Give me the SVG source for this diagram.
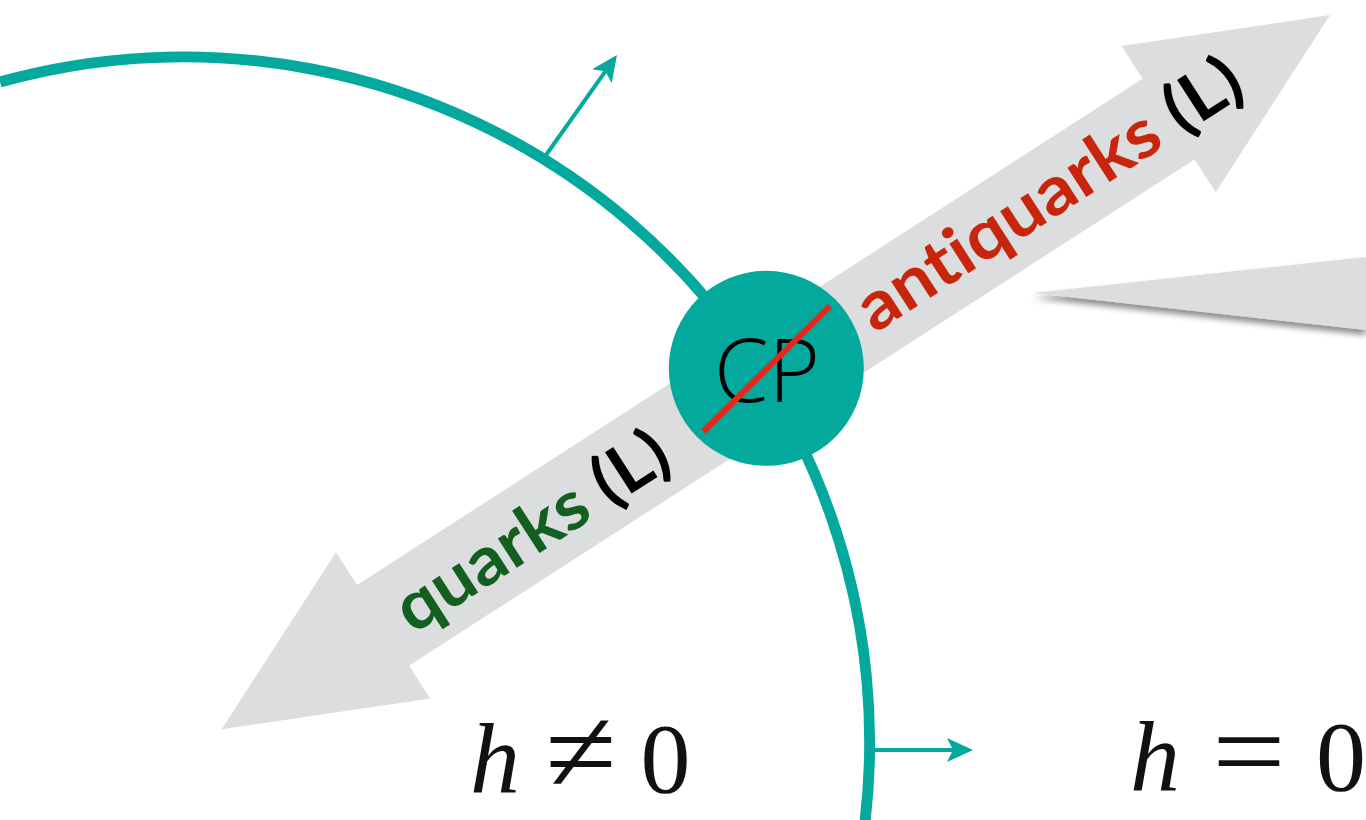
<svg xmlns="http://www.w3.org/2000/svg" width="1366" height="820" viewBox="0 0 1366 820">
<style>
.teal{fill:none;stroke:#04a99d}
.band{fill:#dcdddf}
.lbl{font-family:Lato,"Open Sans","Liberation Sans",sans-serif;font-weight:700;font-size:68px;font-variant-ligatures:none}
.math{font-family:"Liberation Serif","DejaVu Serif",serif;font-size:100px;fill:#111}
</style>
<defs>
<marker id="ah" markerUnits="userSpaceOnUse" viewBox="0 0 26 24" markerWidth="26" markerHeight="24" refX="6" refY="12" orient="auto">
<path d="M0,0 L26,12 L0,24 L6,12 Z" fill="#04a99d"/>
</marker>
<filter id="sh" x="-10%" y="-50%" width="120%" height="200%">
<feDropShadow dx="0" dy="5" stdDeviation="3" flood-color="#000" flood-opacity="0.45"/>
</filter>
</defs>
<g id="boundary">
<path class="teal" stroke-width="11" d="M0,82 A686,686 0 0 1 865,822"/>
</g>
<g id="connectors">
<line class="teal" stroke-width="4" x1="546" y1="155" x2="605.4" y2="71.3" marker-end="url(#ah)"/>
<line class="teal" stroke-width="4" x1="870" y1="750" x2="953" y2="750" marker-end="url(#ah)"/>
</g>
<g id="wedge">
<polygon class="band" filter="url(#sh)" points="1033,293 1366,257 1366,330"/>
</g>
<g id="band-arrow" transform="translate(221.7,729.3) rotate(-32.8)">
<polygon class="band" points="0,0 192,-87 192,-48 1126.5,-48 1126.5,-87 1318.5,0 1126.5,87 1126.5,48 192,48 192,87"/>
</g>
<g id="quarks-label" transform="translate(221.7,729.3) rotate(-32.8)">
<text class="lbl" x="212" y="24" textLength="312" lengthAdjust="spacingAndGlyphs"><tspan fill="#125f1f">quarks</tspan> <tspan fill="#000">(L)</tspan></text>
</g>
<g id="antiquarks-label" transform="translate(221.7,729.3) rotate(-32.8)">
<text class="lbl" x="763" y="21" textLength="445" lengthAdjust="spacingAndGlyphs"><tspan fill="#c8260c">antiquarks</tspan> <tspan fill="#000">(L)</tspan></text>
</g>
<g id="cp">
<circle cx="766.3" cy="368.3" r="97.5" fill="#04a99d"/>
<text x="767" y="402" text-anchor="middle" font-family="'Open Sans',Lato,'Liberation Sans',sans-serif" font-weight="300" font-size="88" fill="#000">CP</text>
<line x1="703.3" y1="431.7" x2="830" y2="306" stroke="#e8261b" stroke-width="6"/>
</g>
<g id="h-nonzero">
<text class="math" x="470" y="792" font-style="italic">h</text>
<text class="math" transform="translate(581,792) scale(1.3,1.2)" text-anchor="middle">≠</text>
<text class="math" x="665.5" y="792" text-anchor="middle">0</text>
</g>
<g id="h-zero">
<text class="math" x="1130" y="790" font-style="italic">h</text>
<text class="math" transform="translate(1249,790) scale(1.3,1.15)" text-anchor="middle">=</text>
<text class="math" x="1341" y="790" text-anchor="middle">0</text>
</g>
</svg>
